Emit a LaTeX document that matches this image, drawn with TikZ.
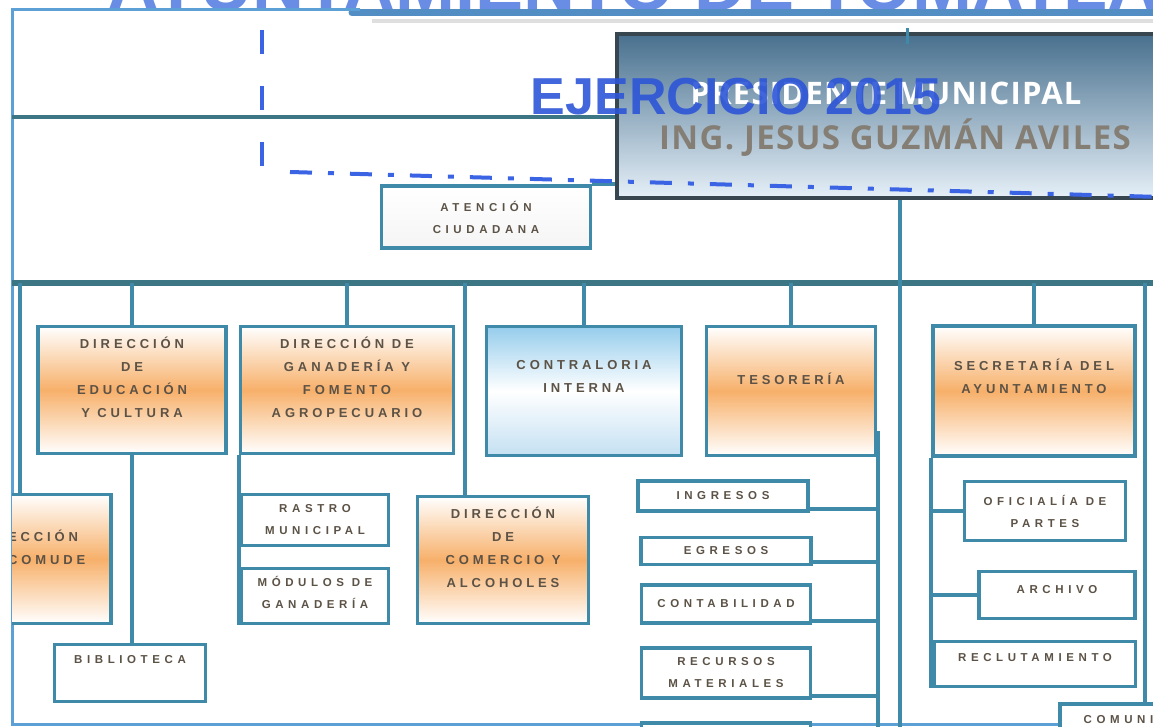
\documentclass[tikz,border=0pt]{standalone}
\usepackage{fontspec}
\setmainfont{Liberation Sans}
\newfontfamily\boxfont{Liberation Sans}[LetterSpace=30]
\newfontfamily\subfont{Liberation Sans}[LetterSpace=40]
\newfontfamily\presfont{Open Sans}[LetterSpace=4]
\usetikzlibrary{positioning}

\definecolor{lineteal}{RGB}{62,138,168}
\definecolor{busteal}{RGB}{60,118,132}
\definecolor{framebl}{RGB}{92,160,214}
\definecolor{bannerbl}{RGB}{82,142,196}
\definecolor{dashbl}{RGB}{58,100,228}
\definecolor{ejerbl}{RGB}{45,85,215}
\definecolor{topbl}{RGB}{105,140,228}
\definecolor{boxorange}{RGB}{247,176,106}
\definecolor{boxtext}{RGB}{92,82,70}
\definecolor{contratop}{RGB}{150,205,236}
\definecolor{contrabot}{RGB}{196,224,242}
\definecolor{presdark}{RGB}{72,112,142}
\definecolor{preslight}{RGB}{230,240,248}
\definecolor{presedge}{RGB}{56,70,80}
\definecolor{namegray}{RGB}{132,126,116}

\begin{document}
\begin{tikzpicture}[x=1pt,y=-1pt,
    conn/.style={draw=lineteal, line width=4pt},
    bus/.style={draw=busteal, line width=6pt},
    orgbox/.style={draw=lineteal, line width=3.5pt, inner sep=0pt, align=center, text=boxtext},
    orangebox/.style={orgbox, top color=white, bottom color=white, middle color=boxorange,
        text depth=26pt, font=\boxfont\bfseries\fontsize{13}{23}\selectfont},
    bluebox/.style={orgbox, top color=contratop, bottom color=contrabot, middle color=white,
        text depth=29pt, font=\boxfont\bfseries\fontsize{13}{23}\selectfont},
    subbox/.style={orgbox, fill=white, font=\subfont\bfseries\fontsize{11.5}{22}\selectfont},
    presbox/.style={draw=presedge, line width=4pt, top color=presdark, bottom color=preslight}
  ]
  \useasboundingbox (0,0) rectangle (1153,727);
  \clip (0,0) rectangle (1153,727);

  % Title band at the top
  \node[anchor=base east, font=\bfseries\fontsize{72}{72}\selectfont, text=topbl] (topTitle)
    at (1215,11) {AYUNTAMIENTO DE TOMATLÁN};
  \draw[gray!25, line width=4pt] (372,21) -- (1160,21);
  \draw[bannerbl, line width=7pt, line cap=round] (352,13) -- (1160,13);

  % Frame
  \draw[framebl, line width=3pt] (1160,724) -- (12,724) -- (12,10) -- (360,10);

  % President
  \node[presbox, minimum width=680, minimum height=164] (pres) at (957,116) {};
  \node[font=\presfont\bfseries\fontsize{31}{31}\selectfont, text=white] (presTitle)
    at (886,93) {PRESIDENTE MUNICIPAL};
  \node[font=\presfont\bfseries\fontsize{33}{33}\selectfont, text=namegray] (presName)
    at (895,138) {ING. JESUS GUZMÁN AVILES};

  % Atencion
  \node[orgbox, top color=white, bottom color=gray!8, minimum width=209, minimum height=62,
    font=\subfont\bfseries\fontsize{11.5}{22}\selectfont] (atencion) at (486,217)
    {ATENCIÓN\\CIUDADANA};

  % First level
  \node[orangebox, minimum width=188, minimum height=127] (edu) at (132,390)
    {DIRECCIÓN\\DE\\EDUCACIÓN\\Y CULTURA};
  \node[orangebox, minimum width=213, minimum height=127] (gan) at (347,390)
    {DIRECCIÓN DE\\GANADERÍA Y\\FOMENTO\\AGROPECUARIO};
  \node[bluebox, minimum width=195, minimum height=129] (contra) at (584,391)
    {CONTRALORIA\\INTERNA};
  \node[orangebox, minimum width=169, minimum height=129, text depth=25pt] (teso) at (791,391)
    {TESORERÍA};
  \node[orangebox, minimum width=202, minimum height=130, text depth=29pt] (secre) at (1034,391)
    {SECRETARÍA DEL\\AYUNTAMIENTO};

  % Second level
  \begin{scope}
    \clip (12,0) rectangle (1153,727);
    \node[orangebox, minimum width=170, minimum height=129, text depth=24pt] (comude) at (26,559)
      {DIRECCIÓN\\DEL COMUDE};
  \end{scope}
  \node[subbox, minimum width=151, minimum height=57, text depth=28pt] (biblio) at (130,673)
    {BIBLIOTECA};
  \node[subbox, minimum width=147, minimum height=51] (rastro) at (315,520)
    {RASTRO\\MUNICIPAL};
  \node[subbox, minimum width=147, minimum height=55, text depth=8pt] (modulos) at (315,596)
    {MÓDULOS DE\\GANADERÍA};
  \node[orangebox, minimum width=171, minimum height=127, text depth=26pt] (comercio) at (503,560)
    {DIRECCIÓN\\DE\\COMERCIO Y\\ALCOHOLES};
  \node[subbox, minimum width=170, minimum height=30] (ingresos) at (723,496) {INGRESOS};
  \node[subbox, minimum width=170, minimum height=27] (egresos) at (726,551) {EGRESOS};
  \node[subbox, minimum width=169, minimum height=38] (contab) at (726,604) {CONTABILIDAD};
  \node[subbox, minimum width=169, minimum height=50] (recursos) at (726,673)
    {RECURSOS\\MATERIALES};
  \node[subbox, minimum width=169, minimum height=36] (tesoextra) at (726,741) {};
  \node[subbox, minimum width=161, minimum height=59] (oficialia) at (1045,511)
    {OFICIALÍA DE\\PARTES};
  \node[subbox, minimum width=156, minimum height=47, text depth=12pt] (archivo) at (1057,595)
    {ARCHIVO};
  \node[subbox, minimum width=201, minimum height=45, text depth=14pt] (reclut) at (1035,664)
    {RECLUTAMIENTO};
  \node[subbox, minimum width=190, minimum height=54, text depth=4pt] (comun) at (1155,731)
    {COMUNICACIÓN\\SOCIAL};

  % Bus and drops
  \coordinate (busL) at (12,283);
  \coordinate (busR) at (1153,283);
  \coordinate (dropCom) at (20,283);
  \coordinate (dropAlc) at (465,283);
  \coordinate (dropSoc) at (1145,283);
  \draw[bus] (busL) -- (busR);
  \foreach \n in {edu,gan,contra,teso,secre}
    \draw[conn] (\n.north) -- (\n.north |- busL);
  \draw[conn] (dropCom) -- (dropCom |- comude.north);
  \draw[conn] (dropAlc) -- (dropAlc |- comercio.north);
  \draw[conn] (dropSoc) -- (dropSoc |- comun.north);

  % Upper links
  \coordinate (leftTop) at (12,117);
  \coordinate (presFoot) at (900,727);
  \coordinate (presStub) at (907,28);
  \draw[conn, draw=busteal] (leftTop) -- (leftTop -| pres.west);
  \draw[conn] (atencion.north east) -- (atencion.north east -| pres.west);
  \draw[conn] (presFoot |- pres.south) -- (presFoot);
  \draw[conn, line width=3pt] (presStub) -- ([yshift=-12pt]presStub |- pres.north);

  % Branches
  \draw[conn] (edu.south) -- (edu.south |- biblio.north);
  \draw[conn] (gan.south west) -- (gan.south west |- modulos.south);
  \coordinate (tesoFoot) at (878,727);
  \draw[conn] ([yshift=-40pt]tesoFoot |- teso.east) -- (tesoFoot);
  \foreach \n in {ingresos,egresos,contab,recursos}
    \draw[conn] ([yshift=4pt]\n.south east) -- ([yshift=4pt]\n.south east -| tesoFoot);
  \draw[conn] (secre.south west) -- (secre.south west |- reclut.south);
  \foreach \n in {oficialia,archivo}
    \draw[conn] (\n.west) -- (\n.west -| secre.south west);

  % Dashed guide
  \coordinate (dashTop) at (262,30);
  \coordinate (dashCorner) at (262,172);
  \coordinate (dashEnd) at (1160,197);
  \draw[dashbl, line width=4pt, dash pattern=on 24pt off 32pt] (dashTop) -- (dashCorner);
  \draw[dashbl, line width=4pt, dash pattern=on 22pt off 16pt on 6pt off 16pt]
    ([xshift=28pt]dashCorner) -- (dashEnd);

  % Year
  \node[font=\bfseries\fontsize{52}{52}\selectfont, text=ejerbl, opacity=0.9] (ejercicio)
    at (736,97) {EJERCICIO 2015};
\end{tikzpicture}
\end{document}
